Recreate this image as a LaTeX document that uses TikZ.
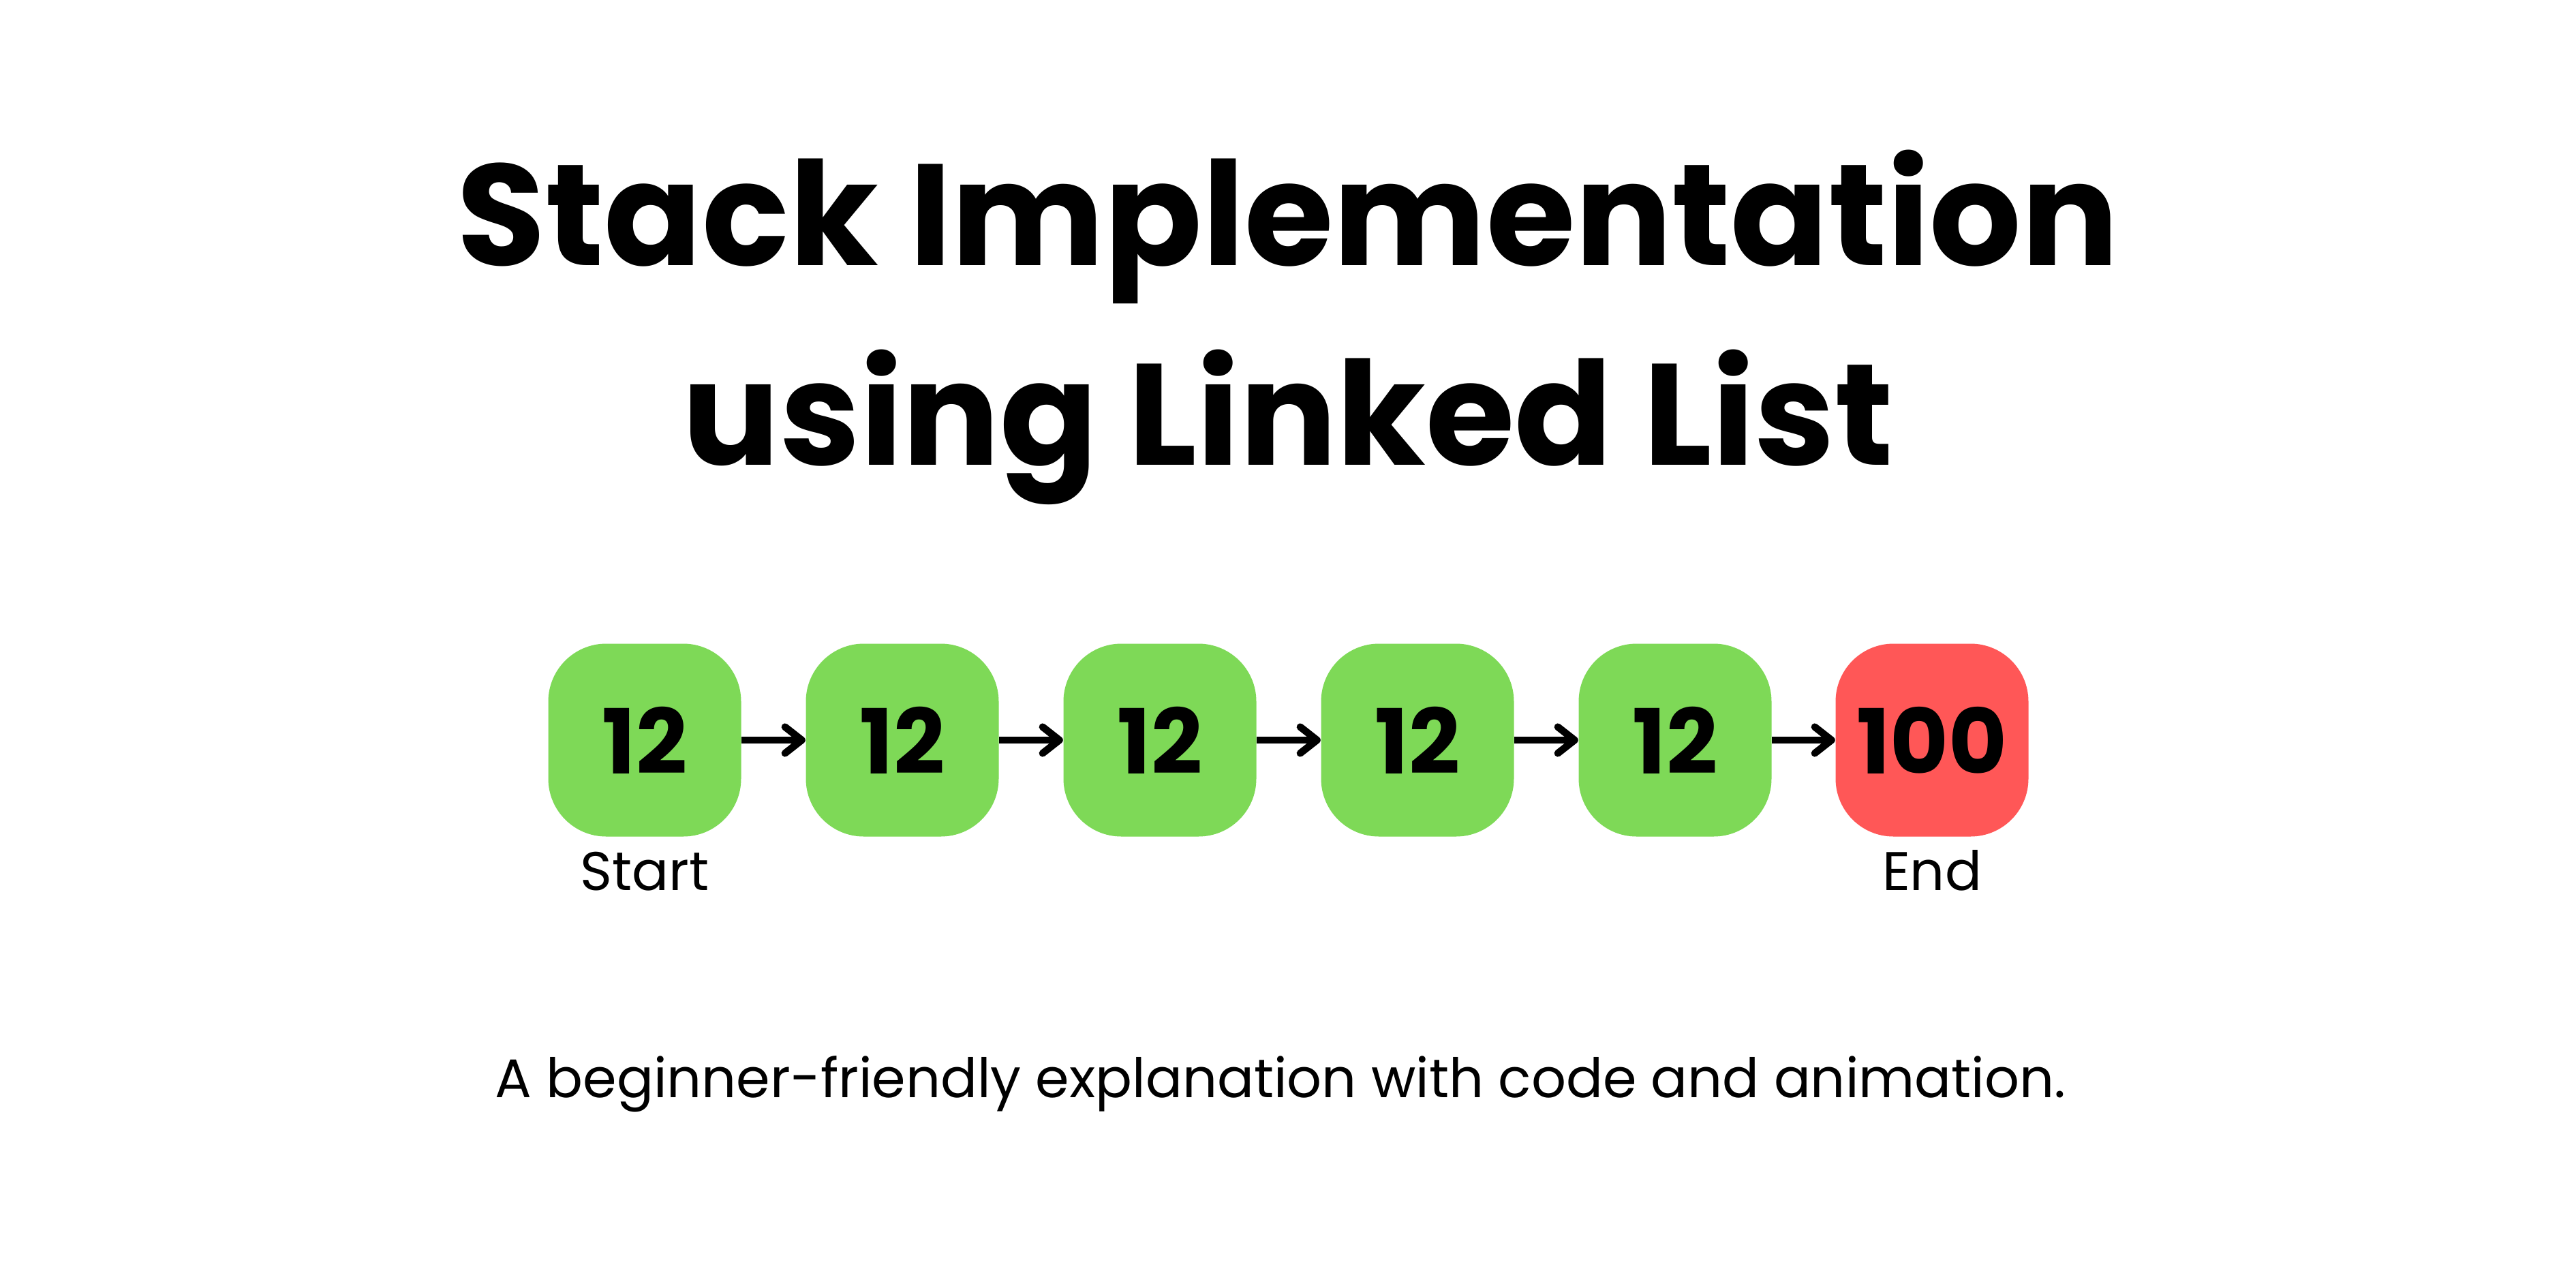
\documentclass[tikz,border=0pt]{standalone}
\usepackage{fontspec}
\setmainfont{Poppins}[BoldFont=* Bold]
\usetikzlibrary{arrows.meta}
\definecolor{nodegreen}{HTML}{7ED957}
\definecolor{nodered}{HTML}{FF5757}
\tikzset{
  listnode/.style={rectangle, rounded corners=0.85cm, minimum width=2.83cm, minimum height=2.83cm, inner sep=0pt, font=\fontsize{37.5}{40}\selectfont\bfseries},
  greennode/.style={listnode, fill=nodegreen},
  rednode/.style={listnode, fill=nodered},
  link/.style={line width=3pt, -{Straight Barb[length=7pt, width=11pt, line cap=round, line join=round]}},
  titletext/.style={anchor=base, inner sep=0pt, font=\fontsize{60.2}{70}\selectfont\bfseries},
  smalltext/.style={anchor=base, inner sep=0pt, font=\fontsize{22.7}{26}\selectfont},
}
\begin{document}
\begin{tikzpicture}
\useasboundingbox[fill=white] (0,0) rectangle (37.8,-18.9);
\node[titletext] (t1) at (18.9,-3.89) {Stack Implementation};
\node[titletext] (t2) at (18.9,-6.82) {using Linked List};
\node[greennode] (n1) at (9.46,-10.86) {12};
\node[greennode] (n2) at (13.24,-10.86) {12};
\node[greennode] (n3) at (17.02,-10.86) {12};
\node[greennode] (n4) at (20.80,-10.86) {12};
\node[greennode] (n5) at (24.58,-10.86) {12};
\node[rednode] (n6) at (28.35,-10.86) {100};
\draw[link] (n1) -- (n2);
\draw[link] (n2) -- (n3);
\draw[link] (n3) -- (n4);
\draw[link] (n4) -- (n5);
\draw[link] (n5) -- (n6);
\node[smalltext] (start) at (9.46,-13.06) {Start};
\node[smalltext] (end) at (28.35,-13.06) {End};
\node[smalltext] (sub) at (18.79,-16.1) {A beginner-friendly explanation with code and animation.};
\end{tikzpicture}
\end{document}
